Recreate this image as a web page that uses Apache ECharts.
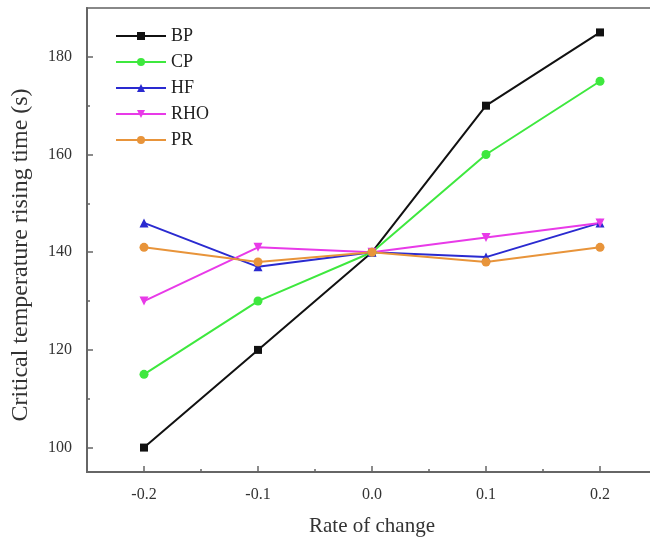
<!DOCTYPE html>
<html>
<head>
<meta charset="utf-8">
<script src="https://cdn.jsdelivr.net/npm/echarts@6/dist/echarts.min.js"></script>
<style>
  html, body { margin: 0; padding: 0; background: #fff; }
  #chart { width: 650px; height: 541px; }
</style>
</head>
<body>
<div id="chart"></div>
<script>
// Rate of change of each parameter
const rates = [-0.2, -0.1, 0.0, 0.1, 0.2];
const xTicks = [-0.2, -0.1, 0.0, 0.1, 0.2];
const xMinorTicks = [-0.15, -0.05, 0.05, 0.15];
const yTicks = [100, 120, 140, 160, 180];
const yMinorTicks = [110, 130, 150, 170];

// Critical temperature rising time (s) for each parameter
const bp  = [100, 120, 140, 170, 185];
const cp  = [115, 130, 140, 160, 175];
const hf  = [146, 137, 140, 139, 146];
const rho = [130, 141, 140, 143, 146];
const pr  = [141, 138, 140, 138, 141];

const seriesDefs = [
  { name: 'BP',  values: bp,  color: '#111111', symbol: 'rect' },
  { name: 'CP',  values: cp,  color: '#3ee83e', symbol: 'circle' },
  { name: 'HF',  values: hf,  color: '#2a2ad0', symbol: 'triangle' },
  { name: 'RHO', values: rho, color: '#e83ae8', symbol: 'triangle', rotate: 180 },
  { name: 'PR',  values: pr,  color: '#e8943a', symbol: 'circle' }
];

const font = '"Liberation Serif", "DejaVu Serif", serif';
const axisColor = '#666';

const chart = echarts.init(document.getElementById('chart'), null, { renderer: 'canvas' });

chart.setOption({
  animation: false,
  backgroundColor: '#fff',
  textStyle: { fontFamily: font },
  grid: {
    left: 87, top: 8, width: 570, height: 464,
    outerBoundsMode: 'none', containLabel: false,
    show: true, borderColor: '#888', borderWidth: 2, backgroundColor: 'transparent'
  },
  legend: {
    orient: 'vertical',
    left: 110, top: 22,
    itemGap: 8,
    itemWidth: 50, itemHeight: 10,
    textStyle: { fontFamily: font, fontSize: 18, color: '#222' },
    data: seriesDefs.map(s => s.name)
  },
  xAxis: [
    {
      type: 'value', min: -0.25, max: 0.25,
      name: 'Rate of change', nameLocation: 'middle', nameGap: 44,
      nameTextStyle: { fontFamily: font, fontSize: 21, color: '#333' },
      axisLine: { onZero: false, lineStyle: { color: axisColor, width: 2 } },
      axisTick: { inside: true, length: 6, customValues: xTicks, lineStyle: { color: axisColor, width: 1.5 } },
      axisLabel: { customValues: xTicks, fontFamily: font, fontSize: 16, color: '#333', margin: 15,
                   formatter: v => v.toFixed(1) },
      splitLine: { show: false }
    },
    {
      type: 'value', min: -0.25, max: 0.25, position: 'bottom',
      axisLine: { show: false, onZero: false },
      axisTick: { inside: true, length: 3, customValues: xMinorTicks, lineStyle: { color: axisColor, width: 1.5 } },
      axisLabel: { show: false },
      splitLine: { show: false }
    }
  ],
  yAxis: [
    {
      type: 'value', min: 95, max: 190,
      name: 'Critical temperature rising time (s)', nameLocation: 'middle', nameGap: 54,
      nameTextStyle: { fontFamily: font, fontSize: 24, color: '#333', padding: [0, 30, 0, 0] },
      axisLine: { show: true, onZero: false, lineStyle: { color: axisColor, width: 2 } },
      axisTick: { show: true, inside: true, length: 6, customValues: yTicks, lineStyle: { color: axisColor, width: 1.5 } },
      axisLabel: { customValues: yTicks, fontFamily: font, fontSize: 16, color: '#333', margin: 15 },
      splitLine: { show: false }
    },
    {
      type: 'value', min: 95, max: 190, position: 'left',
      axisLine: { show: false, onZero: false },
      axisTick: { show: true, inside: true, length: 3, customValues: yMinorTicks, lineStyle: { color: axisColor, width: 1.5 } },
      axisLabel: { show: false },
      splitLine: { show: false }
    }
  ],
  series: seriesDefs.map(s => ({
    name: s.name,
    type: 'line',
    xAxisIndex: 0, yAxisIndex: 0,
    data: rates.map((r, i) => [r, s.values[i]]),
    symbol: s.symbol,
    symbolRotate: s.rotate || 0,
    symbolSize: s.symbol === 'rect' ? 8 : 9,
    showAllSymbol: true,
    itemStyle: { color: s.color },
    lineStyle: { color: s.color, width: 2 },
    emphasis: { disabled: true }
  }))
});
</script>
</body>
</html>
